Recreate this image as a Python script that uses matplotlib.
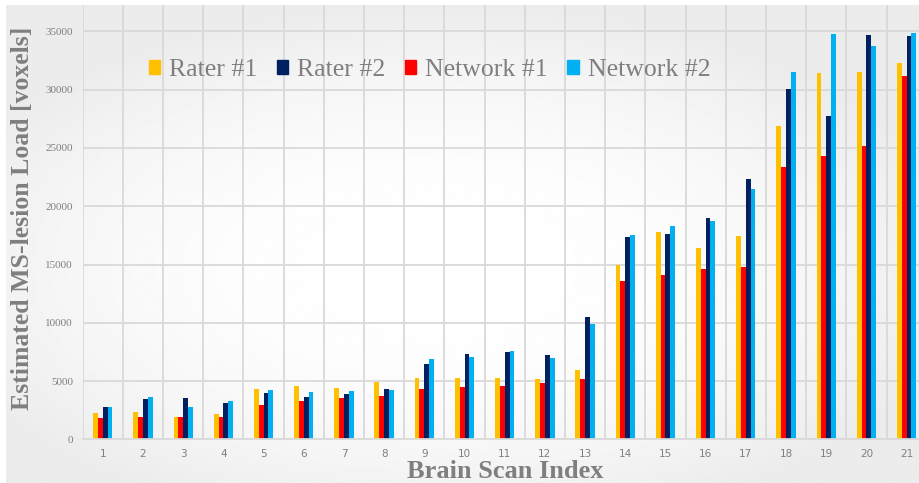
import numpy as np
import matplotlib
matplotlib.use("Agg")
import matplotlib.pyplot as plt
from matplotlib.patches import Patch

# estimated lesion load per brain scan (voxels)
scans = list(range(1, 22))
rater1 = [2260, 2320, 1920, 2170, 4320, 4550, 4380, 4950, 5290, 5290, 5290,
          5150, 5980, 14990, 17820, 16450, 17450, 26890, 31410, 31490, 32320]
network1 = [1800, 1890, 1890, 1890, 2970, 3260, 3580, 3720, 4350, 4520, 4580,
            4800, 5150, 13590, 14130, 14610, 14810, 23400, 24310, 25170, 31200]
rater2 = [2800, 3490, 3550, 3150, 4000, 3660, 3890, 4350, 6440, 7320, 7490,
          7240, 10520, 17390, 17620, 18970, 22320, 30090, 27780, 34720, 34610]
network2 = [2800, 3630, 2800, 3260, 4230, 4030, 4150, 4200, 6920, 7090, 7550,
            7010, 9870, 17530, 18310, 18770, 21460, 31490, 34810, 33780, 34900]

c_r1, c_r2, c_n1, c_n2 = "#FFC000", "#002060", "#FF0000", "#00B0F0"
gray = "#7f7f7f"
serif = "Liberation Serif"


def main():
    fig = plt.figure(figsize=(9.2, 4.83), dpi=100, facecolor="white")

    # soft radial gradient behind the chart
    bg = fig.add_axes([6 / 920, 0, 1 - 6 / 920, 1 - 5 / 483], zorder=-5)
    yy, xx = np.mgrid[-1:1:300j, -1:1:600j]
    r = np.clip(np.sqrt(((xx + 0.05) / 1.15) ** 2 + ((yy - 0.1) / 1.1) ** 2), 0, 1)
    bg.imshow(1 - 0.075 * r ** 2.2, cmap="gray", vmin=0, vmax=1,
              aspect="auto", extent=[0, 1, 0, 1])
    bg.axis("off")

    ax = fig.add_axes([82.7 / 920, (483 - 439.4) / 483, 844 / 920, 434.4 / 483])
    ax.set_facecolor("none")
    x = np.array(scans)
    w = 0.12
    ax.bar(x - 1.5 * w, rater1, w, color=c_r1)
    ax.bar(x - 0.5 * w, network1, w, color=c_n1)
    ax.bar(x + 0.5 * w, rater2, w, color=c_r2)
    ax.bar(x + 1.5 * w, network2, w, color=c_n2)

    ax.set_xlim(0.5, 21.5)
    ax.set_ylim(0, 37260)
    ax.set_xticks(x)
    ax.set_xticks(np.arange(0.5, 22, 1), minor=True)
    ax.set_yticks(np.arange(0, 35001, 5000))
    ax.set_axisbelow(True)
    ax.grid(which="minor", axis="x", color="#d9d9d9", lw=1.3)
    ax.grid(which="major", axis="y", color="#d9d9d9", lw=1.3)
    ax.tick_params(which="both", length=0)
    ax.tick_params(axis="x", pad=7, labelsize=7.5, labelcolor=gray)
    ax.tick_params(axis="y", pad=7, labelsize=8, labelcolor=gray)
    for t in ax.get_yticklabels():
        t.set_family(serif)
    for s in ["top", "right", "left"]:
        ax.spines[s].set_visible(False)
    ax.spines["bottom"].set_color("#d9d9d9")
    ax.spines["bottom"].set_linewidth(1.3)

    handles = [Patch(color=c_r1, label="Rater #1"),
               Patch(color=c_r2, label="Rater #2"),
               Patch(color=c_n1, label="Network #1"),
               Patch(color=c_n2, label="Network #2")]
    leg = fig.legend(handles=handles, loc="center", bbox_to_anchor=(0.467, 0.855),
                     ncol=4, frameon=False, handlelength=0.45, handleheight=0.45,
                     handletextpad=0.35, columnspacing=0.75,
                     prop={"family": serif, "size": 18.5})
    for t in leg.get_texts():
        t.set_color(gray)

    fig.text(0.549, 5 / 483, "Brain Scan Index", ha="center", va="baseline",
             family=serif, weight="bold", size=19, color=gray)
    fig.text(0.024, 0.547, "Estimated MS-lesion Load [voxels]", ha="center",
             va="center", rotation=90, family=serif, weight="bold", size=18.5,
             color=gray)

    fig.savefig("out.png", dpi=100, facecolor="white")


if __name__ == '__main__':
    main()
